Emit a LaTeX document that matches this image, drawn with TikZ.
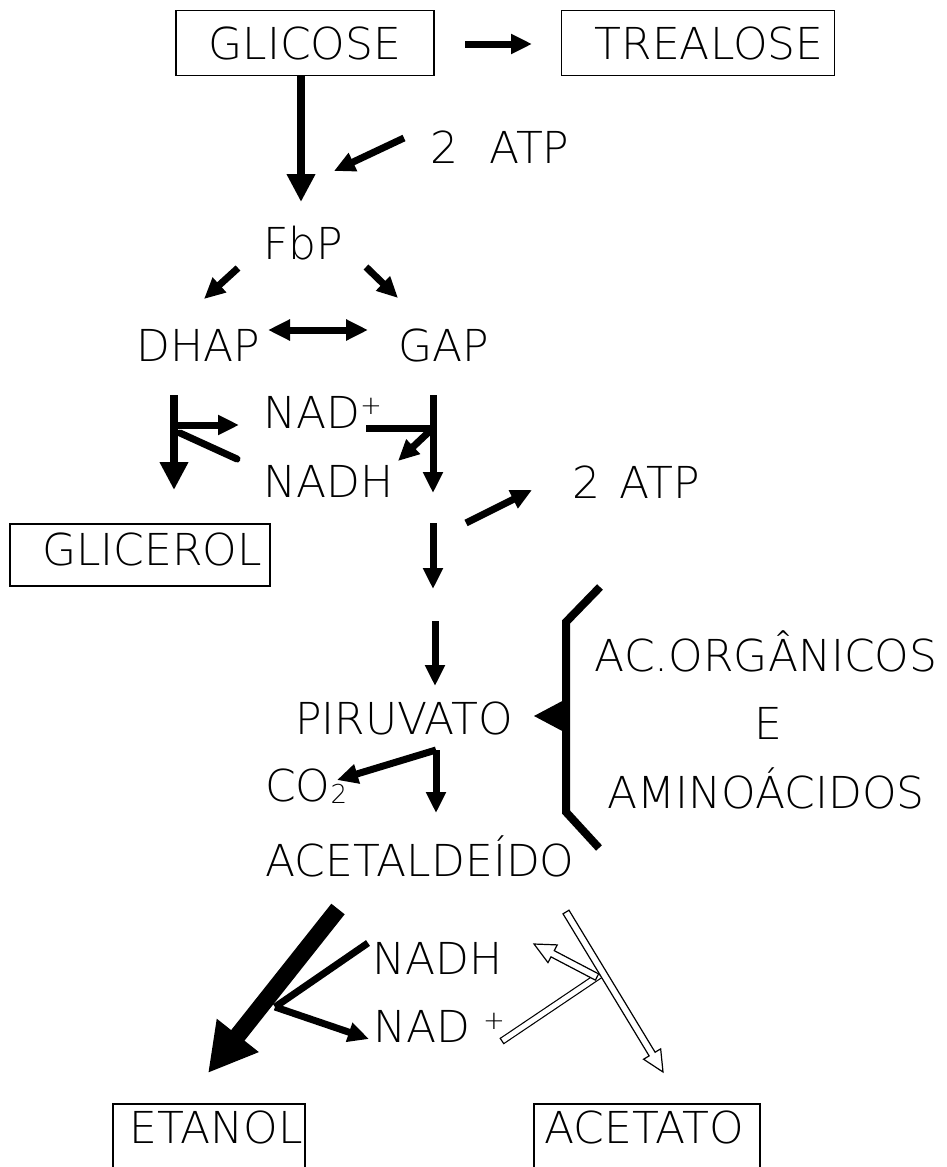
\documentclass[tikz,border=0pt]{standalone}
\usepackage{fontspec}
\setmainfont{DejaVu Sans ExtraLight}
\usetikzlibrary{arrows.meta,calc}

% outlined (hollow) straight arrow from #1 to #2
\newcommand{\hollowarrow}[2]{%
  \draw[line width=1.2pt, fill=white, line join=miter]
    let \p1=($(#2)-(#1)$), \n1={atan2(\y1,\x1)}, \n2={veclen(\x1,\y1)} in
    [shift={(#1)}, rotate=\n1]
    (0pt,-3.5pt) -- (\n2-21pt,-3.5pt) -- (\n2-21pt,-10pt) -- (\n2,0pt)
    -- (\n2-21pt,10pt) -- (\n2-21pt,3.5pt) -- (0pt,3.5pt) -- cycle;}

\begin{document}
\begin{tikzpicture}[x=1pt,y=-1pt,
  lbl/.style={font=\fontsize{44}{44}\selectfont, inner sep=0pt, anchor=center},
  lblw/.style={lbl, anchor=west},
  boxline/.style={draw, line width=1.4pt},
  arr/.style={line width=7pt, -{Triangle[length=21pt,width=19pt]}},
  bigarr/.style={line width=8pt, -{Triangle[length=28pt,width=27pt]}},
  dblarr/.style={line width=7pt, {Triangle[length=22pt,width=20pt]}-{Triangle[length=22pt,width=20pt]}},
  bar/.style={line width=7pt},
  hugearr/.style={line width=17pt, -{Triangle[length=48pt,width=50pt]}}]
\useasboundingbox (0,0) rectangle (946,1167);

% ---- labels ----
\node[lbl, boxline, minimum width=258pt, minimum height=65pt] (glic) at (305,43) {GLICOSE\hspace{18pt}};
\node[lbl, boxline, minimum width=273pt, minimum height=65pt] (trea) at (698,43) {\hspace{22pt}TREALOSE};
\node[lbl] (atp1) at (500,147) {2\hspace{0.7em}ATP};
\node[lbl] (fbp) at (303,243) {FbP};
\node[lbl] (dhap) at (198,345) {DHAP};
\node[lbl] (gap) at (444,345) {GAP};
\node[lblw] (nadp1) at (263,412) {NAD\raisebox{0.3em}{\fontsize{26}{26}\selectfont+}};
\node[lblw] (nadh1) at (263,481) {NADH};
\node[lbl, boxline, minimum width=260pt, minimum height=62pt, text depth=12pt] (glicerol) at (140,555) {\hspace{24pt}GLICEROL};
\node[lbl] (atp2) at (636,482) {2\hspace{0.45em}ATP};
\node[lbl] (piru) at (404,718) {PIRUVATO};
\node[lbl] (acorg) at (766,651) {AC.ORGÂNICOS};
\node[lbl] (conj) at (768,723) {E};
\node[lbl] (amino) at (766,788) {AMINOÁCIDOS};
\node[lblw] (co2) at (265,786) {CO\raisebox{-0.05em}{\fontsize{26}{26}\selectfont 2}};
\node[lbl] (acet) at (420,856) {ACETALDEÍDO};
\node[lblw] (nadh2) at (372,958) {NADH};
\node[lblw] (nadp2) at (373,1026) {NAD};
\node[font=\fontsize{26}{26}\selectfont, inner sep=0pt] (plus2) at (494,1021) {+};
\node[lbl] (etanol) at (216,1127) {ETANOL};
\node[lbl] (acetato) at (644,1127) {ACETATO};
% open-bottomed boxes round the end products
\draw[boxline] (113,1175) |- (305,1104) -- (305,1175);
\draw[boxline] (534,1175) |- (760,1104) -- (760,1175);

% ---- glucose branch ----
\coordinate (t0) at (465,44); \coordinate (t1) at (532,44);
\draw[arr] (t0) -- (t1);
\coordinate (g0) at (301,76); \coordinate (g1) at (301,202);
\draw[bigarr] (g0) -- (g1);
\coordinate (p0) at (404,138); \coordinate (p1) at (334,171);
\draw[arr] (p0) -- (p1);

% ---- FbP split ----
\coordinate (f0) at (238,268); \coordinate (f1) at (204,299);
\coordinate (f2) at (366,267); \coordinate (f3) at (398,298);
\draw[arr] (f0) -- (f1);
\draw[arr] (f2) -- (f3);
\coordinate (d0) at (268,330); \coordinate (d1) at (368,330);
\draw[dblarr] (d0) -- (d1);

% ---- DHAP -> glicerol ----
\coordinate (l0) at (174,395); \coordinate (l1) at (174,490);
\coordinate (l2) at (174,425); \coordinate (l3) at (239,425);
\coordinate (l4) at (180,433); \coordinate (l5) at (237,459);
\draw[bigarr] (l0) -- (l1);
\draw[arr] (l2) -- (l3);
\draw[bar, line cap=round] (l4) -- (l5);

% ---- GAP -> piruvato ----
\coordinate (r0) at (433,395); \coordinate (r1) at (433,493);
\coordinate (r2) at (366,428); \coordinate (r3) at (433,428);
\coordinate (r4) at (398,461);
\draw[arr] (r0) -- (r1);
\draw[bar] (r2) -- (r3);
\draw[arr] (r3) -- (r4);
\coordinate (s0) at (433,523); \coordinate (s1) at (433,589);
\draw[arr] (s0) -- (s1);
\coordinate (q0) at (466,523); \coordinate (q1) at (532,490);
\draw[arr] (q0) -- (q1);
\coordinate (s2) at (435,621); \coordinate (s3) at (435,686);
\draw[arr] (s2) -- (s3);

% ---- bracket of organic acids and amino acids ----
\draw[line width=8pt, line join=miter] (600,587) -- (566,622) -- (566,812) -- (599,848);
\fill (534,716) -- (566,699) -- (566,733) -- cycle;

% ---- piruvato -> CO2 / acetaldeido ----
\coordinate (c0) at (436,750); \coordinate (c1) at (436,813);
\coordinate (c2) at (337,780);
\draw[arr] (c0) -- (c1);
\draw[arr, line join=miter] (c0) -- (c2);

% ---- acetaldeido -> etanol ----
\coordinate (e0) at (338,909); \coordinate (e1) at (208,1073);
\draw[hugearr] (e0) -- (e1);
\coordinate (n0) at (368,943); \coordinate (n1) at (275,1007);
\coordinate (n2) at (369,1039);
\draw[bar] (n0) -- (n1);
\draw[arr] (n1) -- (n2);

% ---- acetaldeido -> acetato (open arrows) ----
\coordinate (h0) at (502,1041); \coordinate (h1) at (597,977);
\coordinate (h2) at (534,944);
\coordinate (h3) at ($(h2)!21pt!(h1)$);
\draw[double=white, double distance=5pt, line width=1.2pt, line join=miter] (h0) -- (h1) -- (h3);
\draw[line width=1.2pt] ($(h0)!3.7pt!90:(h1)$) -- ($(h0)!3.7pt!-90:(h1)$);
\hollowarrow{h1}{h2}
\coordinate (k0) at (566,912); \coordinate (k1) at (663,1072);
\hollowarrow{k0}{k1}
\end{tikzpicture}
\end{document}
